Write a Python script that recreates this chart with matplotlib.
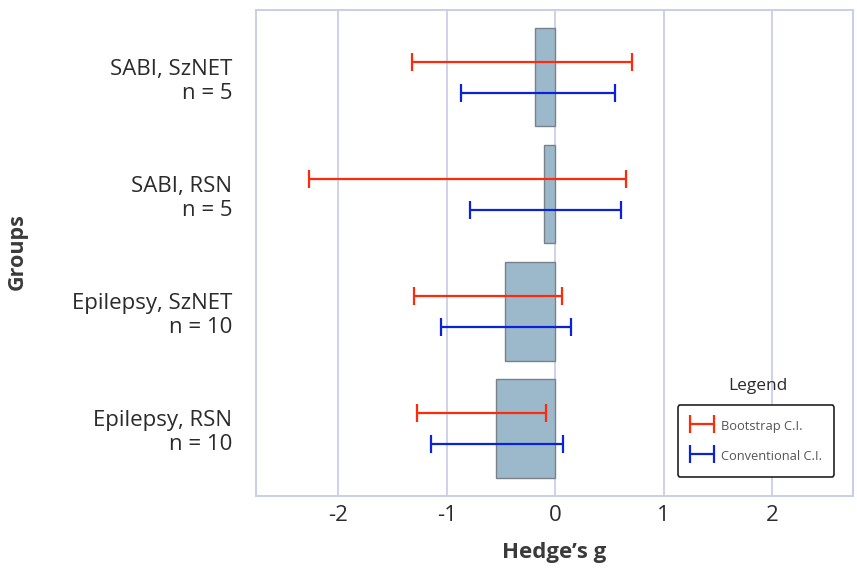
import numpy as np
import matplotlib
matplotlib.use("Agg")
import matplotlib.pyplot as plt
from matplotlib.legend_handler import HandlerErrorbar

plt.rcParams['font.family'] = ['Open Sans', 'Noto Sans', 'DejaVu Sans']

# groups and Hedge's g values
groups = ["SABI, SzNET\nn = 5", "SABI, RSN\nn = 5",
          "Epilepsy, SzNET\nn = 10", "Epilepsy, RSN\nn = 10"]
hedges_g = [-0.19, -0.10, -0.46, -0.55]
# bootstrap confidence interval
boot_lo = [-1.32, -2.27, -1.30, -1.27]
boot_hi = [0.71, 0.655, 0.06, -0.085]
# conventional confidence interval
conv_lo = [-0.87, -0.79, -1.05, -1.15]
conv_hi = [0.55, 0.61, 0.15, 0.075]
xticks = [-2, -1, 0, 1, 2]

txt_col = '#2b2b2b'
grid_col = '#c9cee8'

fig = plt.figure(figsize=(8.57, 5.72), dpi=100)
ax = fig.add_axes([0.2987, 0.1334, 0.6963, 0.8491])

y = np.arange(len(groups))
ax.barh(y, hedges_g, height=0.84, color='#9cb9cc', edgecolor='#7a8088',
        linewidth=1.0, zorder=2)


def ci_bars(lo, hi, offset, color, label):
    lo = np.array(lo)
    hi = np.array(hi)
    mid = (lo + hi) / 2
    return ax.errorbar(mid, y + offset, xerr=[mid - lo, hi - mid], fmt='none',
                       ecolor=color, elinewidth=1.6, capsize=6.7, capthick=1.6,
                       zorder=3, label=label)


h_boot = ci_bars(boot_lo, boot_hi, -0.13, '#ff2a0a', 'Bootstrap C.I.')
h_conv = ci_bars(conv_lo, conv_hi, 0.13, '#0a22d8', 'Conventional C.I.')

ax.set_xlim(-2.76, 2.745)
ax.set_ylim(3.575, -0.575)
ax.set_xticks(xticks)
ax.set_xticklabels([str(t) for t in xticks])
ax.set_yticks(y)
ax.set_yticklabels(groups, ha='right', linespacing=1.22)
ax.tick_params(axis='both', length=0, labelsize=16, labelcolor=txt_col)
ax.tick_params(axis='y', pad=17)
ax.tick_params(axis='x', pad=7)

ax.grid(axis='x', color=grid_col, linewidth=1.3, zorder=0)
ax.grid(axis='y', visible=False)
ax.set_axisbelow(True)
for s in ax.spines.values():
    s.set_color(grid_col)
    s.set_linewidth(1.4)

ax.set_xlabel("Hedge\u2019s g", fontsize=16, fontweight='bold', color='#3a3a3a', labelpad=11)
ax.set_ylabel("Groups", fontsize=15.5, fontweight='bold', color='#3a3a3a')
ax.yaxis.set_label_coords(-0.382, 0.503)

leg = ax.legend(handles=[h_boot, h_conv], loc='lower right',
                bbox_to_anchor=(0.969, 0.039), borderaxespad=0,
                fontsize=9.3, labelcolor='#555555', frameon=True, fancybox=True,
                edgecolor='#222222', handlelength=1.9, handletextpad=0.5,
                handleheight=1.6, borderpad=0.95, labelspacing=1.05,
                handler_map={type(h_boot): HandlerErrorbar(xerr_size=0.9)})
leg.get_frame().set_linewidth(1.2)
leg.get_frame().set_alpha(1)
ax.text(0.841, 0.226, "Legend", transform=ax.transAxes, ha='center', va='center',
        fontsize=12.5, color=txt_col)

fig.savefig("out.png", dpi=100)
